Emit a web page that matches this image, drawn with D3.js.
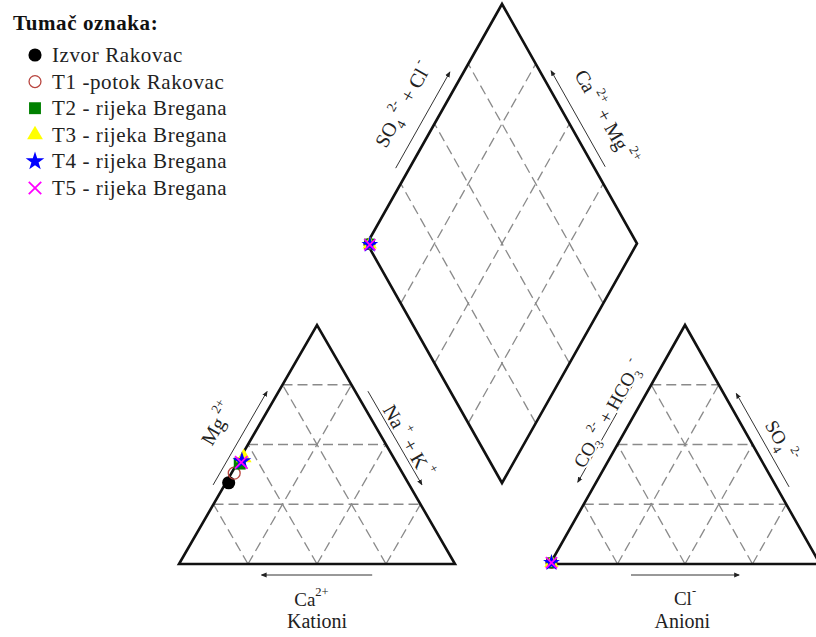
<!DOCTYPE html>
<html><head><meta charset="utf-8">
<script src="https://cdn.jsdelivr.net/npm/d3@7"></script>
<style>body{margin:0;background:#fff}svg{display:block}</style>
</head><body><svg id="c" width="816" height="637"></svg>
<script>
// ---------------- data ----------------
const samples = ["Izvor Rakovac","T1 -potok Rakovac","T2 - rijeka Bregana","T3 - rijeka Bregana","T4 - rijeka Bregana","T5 - rijeka Bregana"];
const symbolTypes = ["circle","circle-open","square","triangle","star","x"];
const colors = ["#000000","#b8453f","#008000","#ffff00","#0000ff","#ff00ff"];
// cations, meq %
const mgPct  = [34, 38, 42, 44.5, 43, 42.5];
const nakPct = [1, 1, 1, 1.2, 1.3, 1.3];
const caPct  = mgPct.map((m,i)=>100-m-nakPct[i]);
// anions, meq %
const so4Pct = [0.5, 0.5, 0.5, 0.5, 0.5, 0.5];
const clPct  = [0.3, 0.3, 0.3, 0.3, 0.3, 0.3];
const hco3Pct = so4Pct.map((s,i)=>100-s-clPct[i]);
const gridTicks = [25, 50, 75];
const legendTitle = "Tumač oznaka:";

// ---------------- setup ----------------
const svg = d3.select("#c");
const FONT = "'Liberation Serif','Times New Roman','DejaVu Serif',serif";

const catX = d3.scaleLinear().domain([0,100]).range([179,455]);
const catY = d3.scaleLinear().domain([0,100]).range([564,325]);
const anX  = d3.scaleLinear().domain([0,100]).range([550,820]);
const anY  = d3.scaleLinear().domain([0,100]).range([564,325]);
const diaX = d3.scaleLinear().domain([-100,100]).range([367,637]);
const diaY = d3.scaleLinear().domain([0,200]).range([483,4]);

const catPt = (mg,nak)=>[catX(nak+mg/2), catY(mg)];
const anPt  = (so4,cl)=>[anX(cl+so4/2), anY(so4)];
const diaPt = (socl,camg)=>[diaX(socl-camg), diaY(socl+camg)];

const defs = svg.append("defs");
defs.append("marker").attr("id","ah").attr("viewBox","0 0 10 10")
  .attr("refX",8).attr("refY",5).attr("markerWidth",6).attr("markerHeight",6)
  .attr("orient","auto").append("path").attr("d","M0,1 L10,5 L0,9 z").attr("fill","#222");

const line = d3.line();
const gGrid = svg.append("g").attr("fill","none").attr("stroke","#8a8a8a")
  .attr("stroke-width",1.3).attr("stroke-dasharray","10,5");
const gOut = svg.append("g").attr("fill","none").attr("stroke","#111")
  .attr("stroke-width",2.6).attr("stroke-linejoin","miter");

// ---------------- grids ----------------
const catLines = [], anLines = [], diaLines = [];
gridTicks.forEach(f=>{
  catLines.push([catPt(f,0), catPt(f,100-f)]);
  catLines.push([catPt(0,f), catPt(100-f,f)]);
  catLines.push([catPt(0,100-f), catPt(100-f,0)]);
  anLines.push([anPt(f,0), anPt(f,100-f)]);
  anLines.push([anPt(0,f), anPt(100-f,f)]);
  anLines.push([anPt(0,100-f), anPt(100-f,0)]);
  diaLines.push([diaPt(f,0), diaPt(f,100)]);
  diaLines.push([diaPt(0,f), diaPt(100,f)]);
});
gGrid.selectAll("path.g").data(catLines.concat(anLines, diaLines)).join("path").attr("d",line);

// ---------------- outlines ----------------
const catTri = [catPt(0,0), catPt(0,100), catPt(100,0)];
const anTri  = [anPt(0,0), anPt(0,100), anPt(100,0)];
const diaPoly = [diaPt(0,0), diaPt(0,100), diaPt(100,100), diaPt(100,0)];
gOut.selectAll("path").data([catTri, anTri, diaPoly]).join("path")
  .attr("d", d=>line(d)+"Z");

// ---------------- edge labels & arrows ----------------
function edgePos(p0,p1,t,off){
  const dx=p1[0]-p0[0], dy=p1[1]-p0[1], L=Math.hypot(dx,dy);
  const ux=dx/L, uy=dy/L;
  return {x:p0[0]+t*dx+off*uy, y:p0[1]+t*dy-off*ux, ang:Math.atan2(dy,dx)*180/Math.PI};
}
function arrow(p0,p1,tTail,tHead,off){
  const a=edgePos(p0,p1,tTail,off), b=edgePos(p0,p1,tHead,off);
  svg.append("line").attr("x1",a.x).attr("y1",a.y).attr("x2",b.x).attr("y2",b.y)
    .attr("stroke","#333").attr("stroke-width",1).attr("marker-end","url(#ah)");
}
function richText(sel, segs, fs){
  let cur=0;
  segs.forEach(([txt,type])=>{
    const target = type==="sup" ? -0.55*fs : type==="sub" ? 0.28*fs : 0;
    sel.append("tspan").attr("dy",target-cur)
      .attr("font-size", type ? fs*0.66 : fs).text(txt);
    cur=target;
  });
}
function edgeLabel(p0,p1,t,off,segs,fs,halo){
  const p=edgePos(p0,p1,t,off);
  const tx=svg.append("text").attr("transform",`translate(${p.x},${p.y}) rotate(${p.ang})`)
    .attr("text-anchor","middle").attr("font-family",FONT).attr("fill","#222");
  if(halo) tx.attr("stroke","#fff").attr("stroke-width",4).attr("paint-order","stroke")
    .attr("stroke-linejoin","round");
  richText(tx,segs,fs);
}
const [cCa,cNa,cMg] = catTri, [aH,aCl,aS] = anTri, [dB,dL,dT,dR] = diaPoly;

// cation triangle
arrow(cCa,cMg,0.31,0.70,10);
edgeLabel(cCa,cMg,0.51,30,[["Mg",""],[" 2+","sup"]],20,false);
arrow(cMg,cNa,0.30,0.69,11);
edgeLabel(cMg,cNa,0.53,14,[["Na",""],[" +","sup"],[" + K",""],[" +","sup"]],20,true);
arrow(cCa,cNa,0.70,0.30,-11);
edgeLabel(cCa,cNa,0.48,-42,[["Ca",""],["2+","sup"]],19,false);
edgeLabel(cCa,cNa,0.50,-64,[["Kationi",""]],20,false);

// anion triangle
arrow(aH,aS,0.72,0.31,16);
edgeLabel(aH,aS,0.58,17,[["CO",""],["3","sub"],[" 2-","sup"],[" + HCO",""],["3","sub"],[" -","sup"]],19,true);
arrow(aS,aCl,0.70,0.31,11);
edgeLabel(aS,aCl,0.54,20,[["SO",""],["4","sub"],["  2-","sup"]],19,true);
arrow(aH,aCl,0.30,0.70,-11);
edgeLabel(aH,aCl,0.50,-41,[["Cl",""],["-","sup"]],19,false);
edgeLabel(aH,aCl,0.49,-64,[["Anioni",""]],20,false);

// diamond
arrow(dL,dT,0.29,0.69,12);
edgeLabel(dL,dT,0.505,30,[["SO",""],["4","sub"],[" 2-","sup"],[" + Cl",""],[" -","sup"]],20,false);
arrow(dT,dR,0.70,0.30,10);
edgeLabel(dT,dR,0.545,28,[["Ca",""],[" 2+","sup"],[" + Mg",""],[" 2+","sup"]],20,false);

// ---------------- markers ----------------
function drawSym(g, type, color, x, y, size){
  const r = Math.sqrt(size/Math.PI);
  if(type==="x"){
    const s=r*0.95;
    g.append("path").attr("d",`M${x-s},${y-s}L${x+s},${y+s}M${x-s},${y+s}L${x+s},${y-s}`)
      .attr("stroke",color).attr("stroke-width",1.8).attr("fill","none");
  } else if(type==="circle-open"){
    g.append("circle").attr("cx",x).attr("cy",y).attr("r",r-0.6)
      .attr("fill","none").attr("stroke",color).attr("stroke-width",1.3);
  } else {
    const st = {circle:d3.symbolCircle, square:d3.symbolSquare, triangle:d3.symbolTriangle, star:d3.symbolStar}[type];
    const sz = type==="square" ? size*1.05 : type==="star" ? size*0.8 : type==="triangle"? size*0.8 : size;
    g.append("path").attr("transform",`translate(${x},${y})`)
      .attr("d", d3.symbol().type(st).size(sz)()).attr("fill",color);
  }
}
const gPts = svg.append("g");
samples.forEach((s,i)=>{
  const c = catPt(mgPct[i], nakPct[i]);
  drawSym(gPts, symbolTypes[i], colors[i], c[0], c[1], 135);
  const a = anPt(so4Pct[i], clPct[i]);
  drawSym(gPts, symbolTypes[i], colors[i], a[0], a[1], 110);
  const d = diaPt(so4Pct[i]+clPct[i], caPct[i]+mgPct[i]);
  drawSym(gPts, symbolTypes[i], colors[i], d[0], d[1], 110);
});

// ---------------- legend ----------------
const gLeg = svg.append("g").attr("font-family",FONT);
gLeg.append("text").attr("x",13).attr("y",30).attr("font-weight","bold")
  .attr("font-size",21).attr("letter-spacing",0.6).attr("fill","#111").text(legendTitle);
samples.forEach((s,i)=>{
  const cy = 55 + i*26.6;
  drawSym(gLeg, symbolTypes[i], colors[i], 35, cy, 135);
  gLeg.append("text").attr("x",52).attr("y",cy+7).attr("font-size",21)
    .attr("letter-spacing",0.6).attr("fill","#222").text(s);
});
</script></body></html>
